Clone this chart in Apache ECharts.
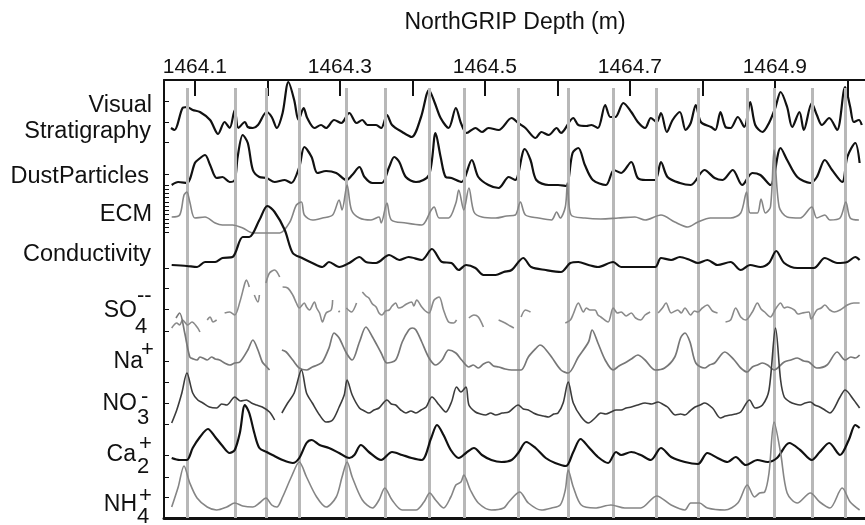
<!DOCTYPE html>
<html><head><meta charset="utf-8">
<script src="https://cdn.jsdelivr.net/npm/echarts@6/dist/echarts.min.js"></script>
<style>html,body{margin:0;padding:0;background:#fff}#c{width:865px;height:525px}</style>
</head><body><div id="c"></div>
<script>
// ---- axis ticks / labels (depth, m) ----
const depthTicks = [1464.1,1464.2,1464.3,1464.4,1464.5,1464.6,1464.7,1464.8,1464.9,1465.0];
const depthLabels = [1464.1,1464.3,1464.5,1464.7,1464.9];
// annual-layer markers (depth, m)
const layerDepths = [1464.089,1464.155,1464.198,1464.244,1464.309,1464.362,1464.423,1464.471,1464.546,1464.615,1464.677,1464.737,1464.795,1464.862,1464.899,1464.951,1464.997];
// left-axis tick marks, in plot units (0 = bottom of plot)
const leftTicks = [417,396,376,344,333,329,325,321,316,312,308,304,299,295,291,286,250,230,209,187,157,136,115,94,63,41,21];
// ---- trace labels ----
const traceNames = ['Visual','Stratigraphy','DustParticles','ECM','Conductivity'];

// ---- series values: [depth (m), relative amplitude] ----
const visualStrat = [[1464.067,12],[1464.072,10],[1464.083,32],[1464.089,33],[1464.097,30],[1464.107,28],[1464.121,20],[1464.132,6],[1464.141,18],[1464.148,12],[1464.155,30],[1464.160,12],[1464.169,18],[1464.173,13],[1464.180,12],[1464.187,15],[1464.199,28],[1464.206,23],[1464.213,12],[1464.221,27],[1464.229,58],[1464.237,40],[1464.243,20],[1464.250,32],[1464.255,22],[1464.265,12],[1464.274,15],[1464.281,12],[1464.292,20],[1464.302,17],[1464.313,27],[1464.323,17],[1464.331,20],[1464.338,15],[1464.350,15],[1464.357,12],[1464.365,25],[1464.372,15],[1464.386,8],[1464.399,3],[1464.412,23],[1464.423,50],[1464.431,37],[1464.439,22],[1464.450,12],[1464.460,32],[1464.467,17],[1464.475,7],[1464.487,12],[1464.496,8],[1464.505,12],[1464.519,10],[1464.537,22],[1464.546,17],[1464.556,12],[1464.570,2],[1464.578,8],[1464.588,5],[1464.599,12],[1464.605,7],[1464.622,22],[1464.629,15],[1464.640,14],[1464.647,15],[1464.656,12],[1464.666,35],[1464.673,23],[1464.680,23],[1464.691,37],[1464.702,28],[1464.711,18],[1464.721,12],[1464.729,22],[1464.737,18],[1464.743,27],[1464.751,8],[1464.759,20],[1464.769,28],[1464.777,10],[1464.784,17],[1464.791,35],[1464.798,18],[1464.812,13],[1464.818,10],[1464.825,28],[1464.832,13],[1464.839,12],[1464.849,23],[1464.858,13],[1464.866,38],[1464.873,15],[1464.883,8],[1464.892,17],[1464.901,33],[1464.908,48],[1464.917,33],[1464.924,13],[1464.934,28],[1464.940,10],[1464.951,37],[1464.958,25],[1464.965,15],[1464.975,22],[1464.986,10],[1464.997,53],[1465.004,33],[1465.009,18],[1465.016,20],[1465.020,15]];

const dustParticles = [[1464.068,5],[1464.077,8],[1464.089,7],[1464.100,27],[1464.104,30],[1464.114,35],[1464.121,25],[1464.130,12],[1464.138,13],[1464.148,8],[1464.155,10],[1464.159,33],[1464.166,55],[1464.173,47],[1464.180,20],[1464.189,13],[1464.199,12],[1464.210,8],[1464.224,10],[1464.233,7],[1464.244,23],[1464.251,43],[1464.261,33],[1464.269,17],[1464.281,19],[1464.295,17],[1464.309,10],[1464.317,15],[1464.327,23],[1464.334,13],[1464.345,7],[1464.358,7],[1464.368,23],[1464.375,33],[1464.382,28],[1464.391,13],[1464.405,8],[1464.423,15],[1464.432,57],[1464.439,33],[1464.446,13],[1464.454,12],[1464.468,8],[1464.482,30],[1464.491,13],[1464.505,5],[1464.519,2],[1464.533,13],[1464.542,10],[1464.555,41],[1464.563,30],[1464.571,10],[1464.588,5],[1464.601,5],[1464.612,4],[1464.621,37],[1464.629,42],[1464.638,25],[1464.649,10],[1464.667,5],[1464.678,20],[1464.688,17],[1464.702,28],[1464.711,12],[1464.722,10],[1464.735,10],[1464.743,28],[1464.752,13],[1464.769,7],[1464.784,5],[1464.803,20],[1464.817,12],[1464.828,10],[1464.842,20],[1464.855,5],[1464.869,17],[1464.880,15],[1464.894,5],[1464.908,42],[1464.917,30],[1464.931,13],[1464.949,7],[1464.958,13],[1464.969,30],[1464.979,20],[1464.993,8],[1465.000,33],[1465.011,47],[1465.017,27]];

const ecm = [[1464.068,18],[1464.079,20],[1464.085,40],[1464.089,43],[1464.093,33],[1464.100,17],[1464.114,18],[1464.128,12],[1464.138,10],[1464.152,10],[1464.166,7],[1464.180,2],[1464.199,2],[1464.217,2],[1464.231,13],[1464.240,30],[1464.247,33],[1464.251,20],[1464.262,15],[1464.276,17],[1464.290,20],[1464.299,35],[1464.303,25],[1464.310,50],[1464.316,25],[1464.327,17],[1464.343,15],[1464.354,18],[1464.357,12],[1464.365,32],[1464.371,15],[1464.391,12],[1464.413,10],[1464.426,25],[1464.430,28],[1464.437,17],[1464.450,17],[1464.460,32],[1464.464,45],[1464.471,25],[1464.478,47],[1464.485,23],[1464.496,18],[1464.515,17],[1464.530,19],[1464.542,20],[1464.549,33],[1464.556,20],[1464.574,17],[1464.592,15],[1464.599,23],[1464.604,17],[1464.611,28],[1464.614,52],[1464.619,20],[1464.638,17],[1464.660,16],[1464.684,17],[1464.707,18],[1464.721,15],[1464.743,20],[1464.762,13],[1464.780,8],[1464.794,13],[1464.811,17],[1464.839,17],[1464.853,22],[1464.861,43],[1464.866,22],[1464.876,22],[1464.881,36],[1464.887,22],[1464.894,28],[1464.899,85],[1464.906,28],[1464.917,18],[1464.935,17],[1464.951,28],[1464.958,17],[1464.969,20],[1464.976,15],[1464.990,17],[1464.998,33],[1465.004,17],[1465.016,15]];

const conductivity = [[1464.068,15],[1464.089,14],[1464.103,13],[1464.114,18],[1464.128,18],[1464.138,22],[1464.152,23],[1464.166,43],[1464.175,43],[1464.189,60],[1464.200,74],[1464.210,68],[1464.224,50],[1464.235,27],[1464.248,22],[1464.262,17],[1464.276,13],[1464.285,18],[1464.299,13],[1464.313,17],[1464.327,23],[1464.336,18],[1464.350,17],[1464.368,25],[1464.382,20],[1464.395,23],[1464.413,20],[1464.427,31],[1464.441,18],[1464.454,17],[1464.464,10],[1464.474,15],[1464.487,12],[1464.498,5],[1464.515,5],[1464.526,8],[1464.537,10],[1464.553,22],[1464.564,13],[1464.584,10],[1464.605,8],[1464.618,17],[1464.629,18],[1464.643,15],[1464.656,13],[1464.677,18],[1464.688,13],[1464.711,13],[1464.735,13],[1464.743,22],[1464.757,20],[1464.769,23],[1464.783,20],[1464.794,17],[1464.807,20],[1464.821,15],[1464.839,18],[1464.853,10],[1464.866,15],[1464.880,13],[1464.892,17],[1464.902,29],[1464.913,17],[1464.931,12],[1464.954,12],[1464.969,22],[1464.986,17],[1465.000,18],[1465.011,23],[1465.017,20]];

const sulfate = [[1464.068,7],[1464.075,12],[1464.079,10],[1464.083,15],[1464.087,12],[1464.090,10],[1464.096,13],[1464.103,8],[1464.107,3],[1464.110,null],
[1464.117,15],[1464.121,18],[1464.125,13],[1464.130,15],[1464.135,null],
[1464.141,22],[1464.148,23],[1464.155,20],[1464.162,33],[1464.169,52],[1464.171,55],[1464.175,48],[1464.177,null],
[1464.182,40],[1464.187,33],[1464.189,40],[1464.192,null],
[1464.198,52],[1464.203,62],[1464.210,65],[1464.217,58],[1464.219,null],
[1464.221,48],[1464.228,47],[1464.235,40],[1464.240,32],[1464.244,27],[1464.251,32],[1464.254,28],[1464.258,25],[1464.265,33],[1464.268,27],[1464.272,22],[1464.276,13],[1464.281,22],[1464.288,25],[1464.290,35],[1464.293,null],
[1464.298,23],[1464.300,24],[1464.303,null],
[1464.309,27],[1464.316,23],[1464.323,32],[1464.327,null],
[1464.331,43],[1464.336,39],[1464.340,37],[1464.345,31],[1464.350,28],[1464.354,22],[1464.358,20],[1464.363,24],[1464.368,25],[1464.372,29],[1464.377,32],[1464.381,27],[1464.386,28],[1464.392,31],[1464.399,33],[1464.402,29],[1464.406,35],[1464.413,28],[1464.418,24],[1464.423,22],[1464.430,35],[1464.437,38],[1464.443,25],[1464.450,13],[1464.457,12],[1464.461,15],[1464.465,null],
[1464.478,17],[1464.485,20],[1464.491,18],[1464.498,8],[1464.501,null],
[1464.519,15],[1464.528,12],[1464.535,9],[1464.540,7],[1464.545,null],
[1464.550,18],[1464.556,25],[1464.563,23],[1464.566,null],
[1464.611,12],[1464.618,15],[1464.622,21],[1464.629,32],[1464.636,23],[1464.640,27],[1464.645,25],[1464.652,25],[1464.656,20],[1464.660,18],[1464.670,13],[1464.677,27],[1464.683,22],[1464.688,23],[1464.695,19],[1464.702,22],[1464.708,17],[1464.715,15],[1464.721,20],[1464.728,23],[1464.731,null],
[1464.739,22],[1464.745,27],[1464.750,32],[1464.757,22],[1464.766,25],[1464.771,22],[1464.776,27],[1464.784,20],[1464.789,24],[1464.794,23],[1464.800,27],[1464.807,30],[1464.814,24],[1464.821,22],[1464.825,null],
[1464.832,13],[1464.839,15],[1464.846,27],[1464.853,18],[1464.860,15],[1464.869,23],[1464.876,32],[1464.881,26],[1464.886,23],[1464.894,18],[1464.901,26],[1464.908,32],[1464.913,27],[1464.917,28],[1464.927,25],[1464.932,21],[1464.938,22],[1464.947,23],[1464.950,16],[1464.958,25],[1464.964,27],[1464.969,30],[1464.976,25],[1464.982,23],[1464.990,25],[1465.000,30],[1465.009,32],[1465.017,32]];

const sodium = [[1464.074,60],[1464.079,65],[1464.086,45],[1464.093,21],[1464.098,19],[1464.103,18],[1464.107,21],[1464.111,20],[1464.117,18],[1464.123,21],[1464.128,19],[1464.134,18],[1464.141,15],[1464.148,13],[1464.155,15],[1464.162,16],[1464.173,28],[1464.180,38],[1464.187,28],[1464.193,16],[1464.198,12],[1464.203,8],[1464.207,null],
[1464.220,28],[1464.226,26],[1464.235,18],[1464.244,10],[1464.254,8],[1464.262,11],[1464.269,13],[1464.276,16],[1464.285,30],[1464.292,45],[1464.299,40],[1464.309,25],[1464.317,18],[1464.327,36],[1464.336,51],[1464.345,41],[1464.357,25],[1464.365,15],[1464.377,18],[1464.386,36],[1464.395,48],[1464.400,50],[1464.405,48],[1464.413,36],[1464.423,20],[1464.432,13],[1464.441,18],[1464.450,28],[1464.460,25],[1464.468,18],[1464.478,11],[1464.484,13],[1464.491,10],[1464.498,14],[1464.505,16],[1464.512,12],[1464.519,11],[1464.528,9],[1464.537,8],[1464.550,8],[1464.560,21],[1464.571,30],[1464.576,33],[1464.581,31],[1464.592,21],[1464.605,8],[1464.615,5],[1464.629,21],[1464.643,36],[1464.648,48],[1464.656,35],[1464.666,18],[1464.677,8],[1464.685,12],[1464.693,15],[1464.702,19],[1464.711,23],[1464.721,18],[1464.735,8],[1464.748,10],[1464.762,21],[1464.770,40],[1464.776,45],[1464.783,36],[1464.791,15],[1464.803,10],[1464.810,13],[1464.817,15],[1464.831,26],[1464.844,18],[1464.853,10],[1464.862,6],[1464.869,11],[1464.876,13],[1464.883,15],[1464.890,13],[1464.899,8],[1464.913,16],[1464.922,18],[1464.931,20],[1464.940,17],[1464.947,16],[1464.958,10],[1464.972,13],[1464.986,26],[1464.997,18],[1465.005,21],[1465.011,20],[1465.017,23]];

const nitrate = [[1464.068,2],[1464.075,15],[1464.082,32],[1464.089,52],[1464.097,32],[1464.104,25],[1464.111,22],[1464.120,18],[1464.130,17],[1464.137,21],[1464.144,20],[1464.155,28],[1464.163,24],[1464.171,25],[1464.178,22],[1464.185,20],[1464.193,18],[1464.203,13],[1464.210,5],[1464.215,null],
[1464.220,12],[1464.228,22],[1464.237,32],[1464.247,55],[1464.254,32],[1464.262,22],[1464.272,10],[1464.281,3],[1464.290,5],[1464.299,18],[1464.306,30],[1464.310,45],[1464.317,30],[1464.327,17],[1464.334,14],[1464.340,12],[1464.347,15],[1464.354,17],[1464.365,25],[1464.371,21],[1464.377,20],[1464.384,15],[1464.391,12],[1464.398,14],[1464.405,12],[1464.412,15],[1464.419,18],[1464.427,28],[1464.437,20],[1464.446,13],[1464.454,23],[1464.461,38],[1464.467,33],[1464.474,38],[1464.478,20],[1464.487,13],[1464.494,11],[1464.501,10],[1464.508,12],[1464.515,10],[1464.524,12],[1464.533,13],[1464.546,20],[1464.553,16],[1464.560,15],[1464.567,12],[1464.574,10],[1464.581,9],[1464.588,8],[1464.595,11],[1464.601,12],[1464.608,22],[1464.615,43],[1464.622,22],[1464.633,8],[1464.643,2],[1464.652,7],[1464.660,12],[1464.667,11],[1464.674,13],[1464.681,15],[1464.688,15],[1464.695,17],[1464.702,18],[1464.711,20],[1464.721,22],[1464.730,21],[1464.739,23],[1464.745,21],[1464.752,18],[1464.763,10],[1464.770,11],[1464.776,10],[1464.783,14],[1464.790,18],[1464.797,20],[1464.803,22],[1464.814,17],[1464.825,7],[1464.832,9],[1464.839,10],[1464.846,11],[1464.853,13],[1464.865,25],[1464.873,17],[1464.883,20],[1464.892,35],[1464.901,97],[1464.908,45],[1464.913,28],[1464.921,23],[1464.928,21],[1464.935,20],[1464.942,22],[1464.949,23],[1464.955,20],[1464.962,18],[1464.969,15],[1464.976,12],[1464.990,28],[1464.997,35],[1465.009,25],[1465.017,17]];

const calcium = [[1464.068,12],[1464.079,10],[1464.089,10],[1464.097,22],[1464.107,33],[1464.118,41],[1464.128,33],[1464.137,25],[1464.148,17],[1464.155,20],[1464.162,37],[1464.169,65],[1464.175,57],[1464.182,37],[1464.189,22],[1464.199,18],[1464.207,15],[1464.221,10],[1464.235,7],[1464.244,12],[1464.254,27],[1464.261,30],[1464.272,25],[1464.285,22],[1464.299,17],[1464.313,12],[1464.320,15],[1464.329,25],[1464.340,18],[1464.357,10],[1464.372,18],[1464.386,15],[1464.399,12],[1464.413,10],[1464.426,32],[1464.434,45],[1464.443,35],[1464.453,20],[1464.464,12],[1464.474,17],[1464.485,22],[1464.496,15],[1464.509,10],[1464.523,8],[1464.537,10],[1464.546,17],[1464.557,28],[1464.570,22],[1464.584,12],[1464.597,7],[1464.612,4],[1464.622,18],[1464.632,31],[1464.643,23],[1464.656,13],[1464.670,7],[1464.681,18],[1464.688,15],[1464.702,18],[1464.715,15],[1464.729,10],[1464.743,22],[1464.757,13],[1464.776,8],[1464.794,6],[1464.807,17],[1464.821,12],[1464.835,8],[1464.846,13],[1464.860,5],[1464.876,10],[1464.890,8],[1464.903,12],[1464.920,27],[1464.935,20],[1464.951,10],[1464.962,18],[1464.975,27],[1464.990,15],[1465.002,30],[1465.011,45],[1465.017,42]];

const ammonium = [[1464.068,8],[1464.077,28],[1464.085,49],[1464.093,32],[1464.103,17],[1464.117,8],[1464.130,5],[1464.144,8],[1464.155,12],[1464.166,9],[1464.180,8],[1464.189,12],[1464.198,17],[1464.206,10],[1464.213,8],[1464.221,18],[1464.233,38],[1464.244,53],[1464.254,38],[1464.268,18],[1464.281,8],[1464.295,18],[1464.303,38],[1464.310,53],[1464.317,38],[1464.331,15],[1464.345,7],[1464.354,15],[1464.362,27],[1464.372,15],[1464.386,5],[1464.405,5],[1464.416,13],[1464.424,22],[1464.432,15],[1464.443,7],[1464.453,18],[1464.460,30],[1464.467,33],[1464.471,40],[1464.480,25],[1464.491,12],[1464.509,5],[1464.526,7],[1464.533,13],[1464.548,23],[1464.560,12],[1464.578,5],[1464.592,7],[1464.604,10],[1464.611,25],[1464.615,45],[1464.622,28],[1464.633,10],[1464.652,7],[1464.674,10],[1464.693,7],[1464.715,7],[1464.737,19],[1464.757,10],[1464.776,5],[1464.784,12],[1464.796,12],[1464.807,7],[1464.831,5],[1464.849,12],[1464.862,30],[1464.872,18],[1464.879,22],[1464.886,23],[1464.892,42],[1464.899,93],[1464.908,62],[1464.917,22],[1464.931,12],[1464.949,22],[1464.962,13],[1464.976,7],[1464.993,27],[1465.004,13],[1465.017,5]];

// ---- layout ----
const PX_M = 0.0013736;          // metres per pixel along x
const GRID_L = 164, GRID_T = 80, GRID_W = 704, GRID_H = 438;
const X_MIN = 1464.0574, X_MAX = X_MIN + GRID_W * PX_M;
const FONT = '"Liberation Sans", Arial, Helvetica, sans-serif';

const traces = [
  {data: visualStrat,  off: 378, color: '#111', w: 2.2},
  {data: dustParticles,off: 328, color: '#111', w: 2.2},
  {data: ecm,          off: 283, color: '#858585', w: 1.6},
  {data: conductivity, off: 238, color: '#111', w: 2.2},
  {data: sulfate,      off: 183, color: '#8a8a8a', w: 1.6},
  {data: sodium,       off: 140, color: '#777', w: 1.7},
  {data: nitrate,      off: 93,  color: '#3c3c3c', w: 1.6},
  {data: calcium,      off: 48,  color: '#111', w: 2.2},
  {data: ammonium,     off: 3,   color: '#858585', w: 1.6}
];

const series = [{
  type: 'line', data: [], silent: true, z: 1,
  markLine: {
    silent: true, symbol: ['none','none'], animation: false, label: {show: false},
    lineStyle: {color: '#b8b8b8', width: 3, type: 'solid'},
    data: layerDepths.map(d => [{coord: [d, 430]}, {coord: [d, 0]}])
  }
}];
traces.forEach((t, i) => {
  series.push({
    type: 'line', z: 3 + i, symbol: 'none', smooth: 0.3, connectNulls: false,
    lineStyle: {color: t.color, width: t.w}, animation: false,
    data: t.data.map(p => [p[0], p[1] == null ? null : p[1] + t.off])
  });
});

function label(text, x, y, align, size) {
  return {type: 'text', x: x, y: y, z: 100,
    style: {text: text, align: align || 'right', verticalAlign: 'middle',
      font: (size || 23.5) + 'px ' + FONT, fill: '#111'}};
}

const graphics = [
  {type: 'text', x: 515, y: 23, style: {text: 'NorthGRIP Depth (m)', align: 'center', verticalAlign: 'middle', font: '23px ' + FONT, fill: '#111'}},
  label(traceNames[0], 152, 106), label(traceNames[1], 151, 132),
  label(traceNames[2], 149, 177), label(traceNames[3], 152, 215),
  label(traceNames[4], 151, 255),
  label('SO', 137, 311, 'right', 23), label('4', 135, 327, 'left', 22), label('--', 137, 296, 'left', 22),
  label('Na', 143, 362, 'right', 23), label('+', 141, 350, 'left', 22),
  label('NO', 137, 404, 'right', 23), label('3', 137, 418, 'left', 22), label('-', 141, 397, 'left', 22),
  label('Ca', 136, 455, 'right', 23), label('2', 137, 467, 'left', 22), label('+', 139, 444, 'left', 22),
  label('NH', 137, 505, 'right', 23), label('4', 137, 517, 'left', 22), label('+', 139, 496, 'left', 22)
];

const chart = echarts.init(document.getElementById('c'), null, {renderer: 'canvas'});
chart.setOption({
  animation: false,
  backgroundColor: '#fff',
  grid: {left: GRID_L, top: GRID_T, width: GRID_W, height: GRID_H, containLabel: false},
  xAxis: [{
    type: 'value', position: 'top', min: X_MIN, max: X_MAX,
    axisLine: {show: true, onZero: false, lineStyle: {color: '#111', width: 2}},
    axisTick: {show: true, inside: true, length: 16, lineStyle: {color: '#111', width: 2}, customValues: depthTicks},
    axisLabel: {show: true, customValues: depthLabels, margin: 2, fontSize: 21, fontFamily: FONT, color: '#111',
      formatter: v => Number(v).toFixed(1)},
    splitLine: {show: false}
  }, {
    type: 'value', position: 'bottom', min: X_MIN, max: X_MAX,
    axisLine: {show: true, onZero: false, lineStyle: {color: '#111', width: 3}},
    axisTick: {show: false}, axisLabel: {show: false}, splitLine: {show: false}
  }],
  yAxis: {
    type: 'value', min: 0, max: GRID_H,
    axisLine: {show: true, onZero: false, lineStyle: {color: '#111', width: 2}},
    axisTick: {show: true, inside: true, length: 5, lineStyle: {color: '#111', width: 1}, customValues: leftTicks},
    axisLabel: {show: false}, splitLine: {show: false}
  },
  series: series,
  graphic: graphics
});
</script>
</body></html>
